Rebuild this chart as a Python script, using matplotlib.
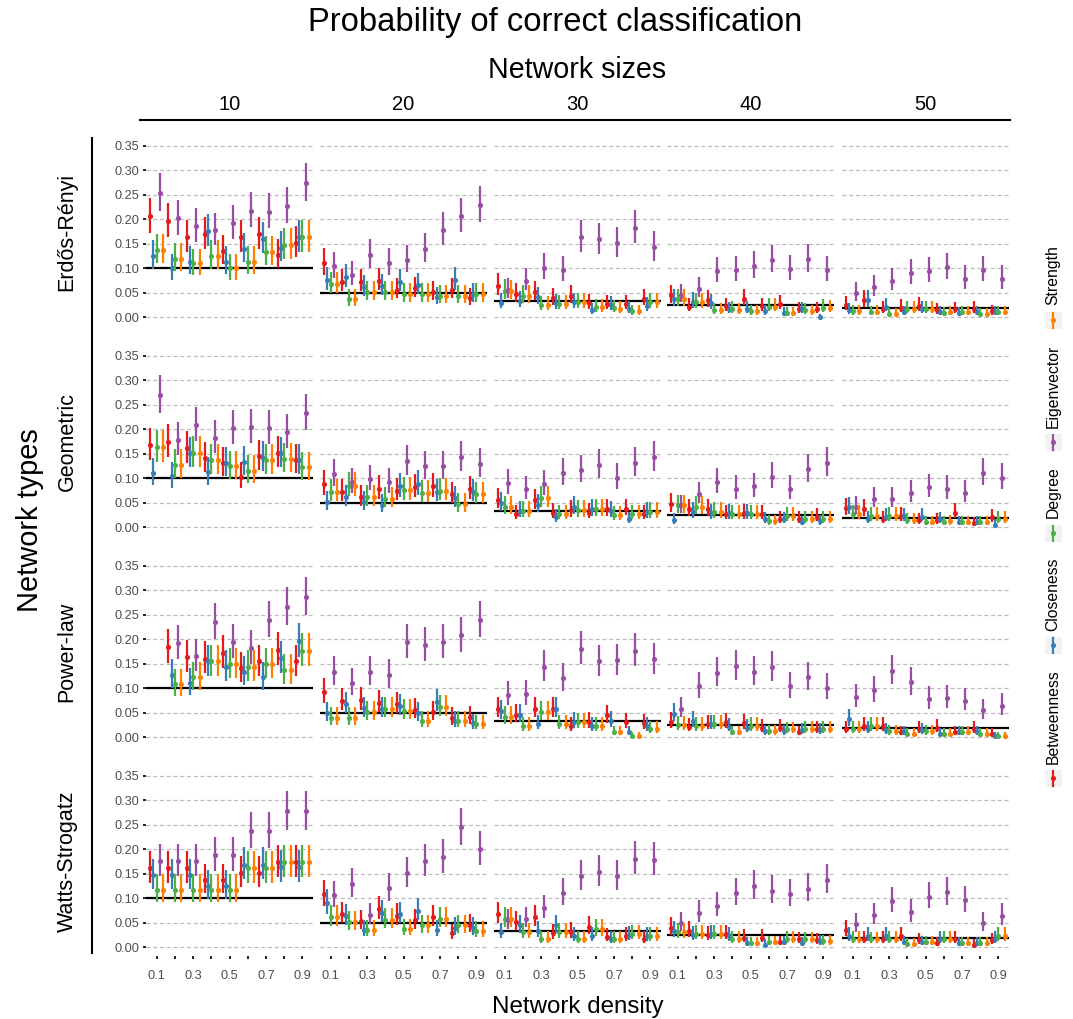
import numpy as np
import matplotlib
matplotlib.use('Agg')
from matplotlib import pyplot as plt
from matplotlib.patches import Rectangle

plt.rcParams['font.family'] = ['Liberation Sans', 'DejaVu Sans']

nan = np.nan
densities = [0.1, 0.2, 0.3, 0.4, 0.5, 0.6, 0.7, 0.8, 0.9]
density_labels = ['0.1', '', '0.3', '', '0.5', '', '0.7', '', '0.9']
sizes = [10, 20, 30, 40, 50]
net_types = ['Erdős-Rényi', 'Geometric', 'Power-law', 'Watts-Strogatz']
measures = ['Betweenness', 'Closeness', 'Degree', 'Eigenvector', 'Strength']
colors = ['#E41A1C', '#377EB8', '#4DAF4A', '#984EA3', '#FF7F00']
n_sims = 500  # simulations per cell, used for the binomial intervals

# each list: one row per network size (10..50), one value per density (0.1..0.9)
er_betweenness = [[.206, .196, .164, .170, .136, .164, .170, .128, .152],
                  [.111, .073, .073, .075, .056, .059, .051, .056, .039],
                  [.065, .047, .051, .039, .044, .029, .027, .027, .038],
                  [.045, .022, .035, .023, .038, .023, .027, .016, .016],
                  [.025, .035, .018, .020, .024, .015, .016, .018, .012]]
er_closeness = [[.126, .100, .114, .176, .114, .140, .160, .142, .164],
                [.077, .082, .061, .063, .073, .066, .041, .077, .047],
                [.030, .034, .041, .029, .031, .015, .025, .017, .024],
                [.037, .032, .029, .016, .018, .012, .008, .016, .000],
                [.015, .035, .022, .010, .018, .010, .008, .010, .010]]
er_degree = [[.138, .120, .110, .126, .100, .114, .134, .148, .164],
             [.068, .037, .051, .051, .047, .047, .044, .044, .047],
             [.054, .044, .025, .027, .031, .021, .019, .012, .031],
             [.037, .031, .015, .017, .012, .022, .008, .014, .020],
             [.012, .010, .007, .018, .018, .008, .010, .007, .010]]
er_eigenvector = [[.254, .202, .186, .178, .192, .218, .216, .228, .274],
                  [.104, .087, .127, .111, .117, .140, .179, .207, .229],
                  [.056, .075, .101, .097, .164, .159, .151, .183, .143],
                  [.046, .058, .095, .097, .105, .117, .099, .119, .097],
                  [.049, .061, .075, .090, .095, .102, .079, .097, .079]]
er_strength = [[.138, .120, .110, .126, .100, .114, .134, .148, .164],
               [.068, .037, .051, .051, .047, .047, .044, .044, .047],
               [.053, .044, .025, .027, .031, .021, .018, .012, .031],
               [.037, .031, .015, .015, .012, .022, .008, .012, .019],
               [.012, .011, .007, .018, .018, .010, .010, .007, .010]]

geo_betweenness = [[.168, .175, .162, .141, .131, .103, .145, .152, .138],
                   [.088, .073, .061, .079, .075, .082, .084, .068, .078],
                   [.056, .027, .055, .030, .035, .030, .037, .038, .027],
                   [.047, .037, .037, .027, .029, .027, .018, .018, .022],
                   [.039, .037, .018, .024, .015, .015, .030, .008, .021]]
geo_closeness = [[.111, .104, .151, .112, .131, .134, .142, .151, .137],
                 [.052, .061, .051, .046, .084, .088, .073, .060, .073],
                 [.049, .034, .046, .021, .042, .037, .034, .016, .032],
                 [.015, .032, .029, .029, .029, .016, .016, .010, .012],
                 [.041, .017, .022, .023, .022, .016, .010, .010, .005]]
geo_degree = [[.164, .127, .152, .137, .125, .116, .137, .140, .123],
              [.073, .085, .061, .058, .077, .071, .075, .047, .068],
              [.042, .034, .060, .027, .035, .037, .025, .027, .032],
              [.045, .042, .032, .027, .027, .012, .024, .018, .017],
              [.027, .024, .024, .015, .010, .010, .010, .010, .017]]
geo_eigenvector = [[.271, .179, .209, .183, .203, .205, .203, .195, .233],
                   [.109, .092, .099, .092, .135, .125, .125, .143, .129],
                   [.090, .078, .088, .111, .117, .127, .101, .131, .143],
                   [.045, .068, .092, .079, .084, .103, .079, .119, .131],
                   [.042, .058, .058, .070, .082, .079, .070, .111, .101]]
geo_strength = [[.164, .127, .152, .137, .125, .116, .137, .140, .123],
                [.073, .085, .061, .058, .077, .071, .075, .047, .068],
                [.042, .034, .060, .027, .035, .037, .025, .027, .032],
                [.045, .042, .032, .027, .027, .012, .024, .018, .017],
                [.027, .024, .024, .015, .010, .012, .010, .010, .017]]

pl_betweenness = [[nan, .184, .164, .161, .173, .141, .155, .179, .155],
                  [.092, .075, .077, .071, .068, .056, .052, .040, .042],
                  [.058, .046, .058, .058, .024, .032, .045, .031, .029],
                  [.032, .022, .027, .031, .029, .020, .020, .010, .018],
                  [.018, .024, .024, .010, .018, .020, .010, .018, .007]]
pl_closeness = [[nan, .127, .111, .155, .144, .134, .123, .162, .197],
                [.049, .068, .059, .058, .063, .049, .073, .034, .029],
                [.053, .046, .027, .058, .032, .024, .034, .010, .024],
                [.048, .034, .027, .022, .020, .012, .012, .015, .015],
                [.037, .018, .015, .010, .015, .007, .010, .010, .002]]
pl_degree = [[nan, .109, .123, .155, .149, .144, .149, .137, .177],
             [.040, .040, .051, .058, .054, .034, .061, .034, .027],
             [.042, .024, .051, .027, .031, .024, .010, .002, .017],
             [.025, .024, .027, .010, .024, .012, .016, .017, .018],
             [.017, .024, .012, .007, .012, .007, .010, .007, .002]]
pl_eigenvector = [[nan, .192, .166, .235, .195, .182, .240, .267, .287],
                  [.133, .111, .133, .128, .195, .188, .195, .208, .240],
                  [.087, .088, .144, .121, .181, .155, .157, .177, .159],
                  [.058, .104, .132, .145, .133, .143, .104, .123, .101],
                  [.082, .096, .136, .112, .078, .080, .075, .055, .065]]
pl_strength = [[nan, .109, .123, .155, .149, .144, .149, .137, .177],
               [.040, .040, .051, .058, .054, .034, .061, .034, .027],
               [.042, .024, .051, .027, .031, .024, .010, .002, .017],
               [.025, .024, .027, .010, .024, .012, .016, .017, .018],
               [.017, .024, .012, .007, .012, .007, .010, .007, .002]]

ws_betweenness = [[.162, .162, .162, .138, .138, .152, .152, .174, .174],
                  [.108, .068, .053, .078, .065, .055, .062, .029, .046],
                  [.068, .051, .062, .029, .032, .042, .022, .024, .018],
                  [.040, .034, .025, .027, .020, .020, .010, .016, .015],
                  [.036, .018, .017, .024, .015, .008, .018, .005, .015]]
ws_closeness = [[.147, .147, .147, .126, .126, .169, .169, .164, .164],
                [.090, .064, .036, .070, .068, .075, .036, .040, .040],
                [.031, .045, .034, .045, .024, .024, .017, .025, .024],
                [.034, .025, .027, .024, .008, .005, .010, .008, .012],
                [.024, .024, .024, .010, .010, .018, .008, .008, .018]]
ws_degree = [[.118, .118, .118, .118, .118, .162, .162, .174, .174],
             [.062, .051, .036, .056, .038, .045, .058, .045, .034],
             [.058, .031, .018, .031, .017, .037, .017, .027, .024],
             [.031, .027, .027, .018, .008, .010, .018, .016, .012],
             [.018, .016, .018, .007, .010, .018, .008, .008, .024]]
ws_eigenvector = [[.176, .176, .176, .188, .188, .238, .238, .278, .278],
                  [.106, .130, .066, .121, .151, .176, .184, .245, .200],
                  [.055, .058, .080, .111, .145, .154, .145, .181, .179],
                  [.050, .070, .085, .111, .126, .116, .109, .120, .138],
                  [.047, .066, .095, .072, .103, .112, .096, .050, .065]]
ws_strength = [[.118, .118, .118, .118, .118, .162, .162, .174, .174],
               [.062, .051, .036, .056, .038, .045, .058, .045, .034],
               [.058, .031, .018, .031, .017, .037, .017, .027, .024],
               [.031, .027, .027, .018, .008, .010, .018, .016, .012],
               [.018, .016, .018, .007, .010, .018, .008, .008, .024]]

by_type = [
    [er_betweenness, er_closeness, er_degree, er_eigenvector, er_strength],
    [geo_betweenness, geo_closeness, geo_degree, geo_eigenvector, geo_strength],
    [pl_betweenness, pl_closeness, pl_degree, pl_eigenvector, pl_strength],
    [ws_betweenness, ws_closeness, ws_degree, ws_eigenvector, ws_strength],
]


def wilson(p, n, z=1.96):
    p = np.asarray(p, dtype=float)
    denom = 1 + z**2 / n
    center = (p + z**2 / (2 * n)) / denom
    half = z * np.sqrt(p * (1 - p) / n + z**2 / (4 * n**2)) / denom
    return center - half, center + half


W, H = 1073, 1019
fig = plt.figure(figsize=(W / 100, H / 100), dpi=100)

col_left = [146, 320, 494, 667, 842]
col_w = 167
row_top = [137.4, 347.4, 557.4, 767.4]
row_h = 188.5
dodge = [-0.036, -0.018, 0.0, 0.018, 0.036]
grey_txt = '#4D4D4D'

for r, ntype in enumerate(net_types):
    for c, size in enumerate(sizes):
        ax = fig.add_axes([col_left[c] / W, 1 - (row_top[r] + row_h) / H,
                           col_w / W, row_h / H])
        ax.set_facecolor('none')
        ax.set_xlim(0.041, 0.959)
        ax.set_ylim(-0.0175, 0.3675)
        for s in ax.spines.values():
            s.set_visible(False)
        ax.set_yticks([0, 0.05, 0.10, 0.15, 0.20, 0.25, 0.30, 0.35])
        ax.yaxis.grid(True, color='#BDBDBD', linestyle=(0, (3.2, 2.2)), lw=0.9)
        ax.set_axisbelow(True)
        ax.axhline(1 / size, color='black', lw=1.6, zorder=1.5)

        for k, m in enumerate(measures):
            p = np.array(by_type[r][k][c], dtype=float)
            x = np.array(densities) + dodge[k]
            lo, hi = wilson(p, n_sims)
            ax.vlines(x, lo, hi, color=colors[k], lw=1.6, zorder=2 + k)
            ax.plot(x, p, 'o', ms=3.7, color=colors[k], mew=0, zorder=2 + k)

        if c == 0:
            ax.set_yticklabels(['0.00', '0.05', '0.10', '0.15', '0.20', '0.25', '0.30', '0.35'])
            ax.tick_params(axis='y', length=2.5, width=1.2, pad=2.5,
                           labelsize=9.2, labelcolor=grey_txt)
        else:
            ax.tick_params(axis='y', length=0, labelleft=False)
        if r == len(net_types) - 1:
            ax.set_xticks(densities)
            ax.set_xticklabels(density_labels)
            ax.tick_params(axis='x', length=2.5, width=1.2, pad=7.5,
                           labelsize=9.2, labelcolor=grey_txt)
        else:
            ax.set_xticks([])

# decorations in pixel coordinates
ov = fig.add_axes([0, 0, 1, 1], zorder=20)
ov.set_xlim(0, W)
ov.set_ylim(H, 0)
ov.axis('off')
ov.set_facecolor('none')

ov.text(555, 22, 'Probability of correct classification', fontsize=23.6,
        ha='center', va='center')
ov.text(577, 70, 'Network sizes', fontsize=20.6, ha='center', va='center')
for c, size in enumerate(sizes):
    ov.text(col_left[c] + col_w / 2, 104, str(size), fontsize=14.5,
            ha='center', va='center')
ov.plot([140, 1010], [120, 120], color='black', lw=1.5)

ov.text(30, 520, 'Network types', fontsize=20.9, rotation=90,
        ha='center', va='center')
ov.plot([92, 92], [138, 953], color='black', lw=1.5)
for r, ntype in enumerate(net_types):
    ov.text(67, row_top[r] + row_h / 2, ntype, fontsize=15.5, rotation=90,
            ha='center', va='center')

ov.text(578, 1007, 'Network density', fontsize=17.4, ha='center', va='center')

# legend (horizontal legend turned on its side)
key_y = [778, 645, 533, 442, 320]
label_y = [716.5, 594, 492.5, 386, 275.5]
for k, m in enumerate(measures):
    ov.add_patch(Rectangle((1044.5, key_y[k] - 8.5), 17, 17,
                           facecolor='#F2F2F2', edgecolor='none'))
    ov.plot([1053, 1053], [key_y[k] - 7.5, key_y[k] + 7.5], color=colors[k], lw=1.6)
    ov.plot([1053], [key_y[k]], 'o', ms=3.7, color=colors[k], mew=0)
    ov.text(1053, label_y[k], m, fontsize=11.3, rotation=90,
            ha='center', va='center')

fig.savefig('out.png', dpi=100)
